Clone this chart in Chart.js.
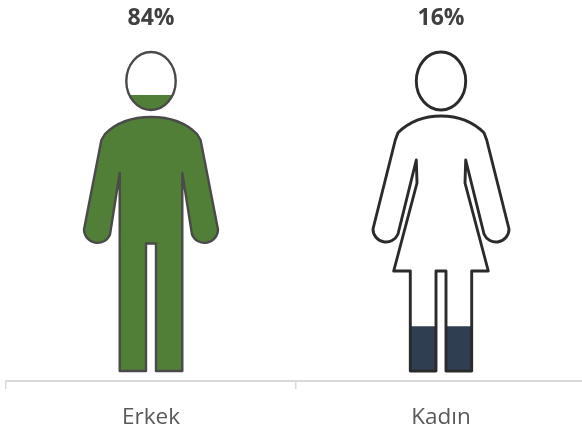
<!DOCTYPE html>
<html>
<head>
<meta charset="utf-8">
<script src="https://cdn.jsdelivr.net/npm/chart.js@4"></script>
<style>
  html, body { margin: 0; padding: 0; background: #ffffff; overflow: hidden; }
  #wrap { width: 582px; height: 432px; overflow: hidden; }
</style>
</head>
<body>
<div id="wrap"><canvas id="chart" width="592" height="432"></canvas></div>
<script>
var categories = ['Erkek', 'Kadın'];
var percents = [84, 16];
var barColors = ['#527f37', '#2f3e50'];
var outlineColors = ['#4a4a4a', '#2b2b2b'];
var outlineWidths = [2.4, 2.9];

// silhouettes, x relative to the category centre, y in canvas pixels
var headShapes = [
  'M-24.7 81 A24.7 29 0 1 0 24.7 81 A24.7 29 0 1 0 -24.7 81 Z',
  'M-24.7 81 A24.7 29 0 1 0 24.7 81 A24.7 29 0 1 0 -24.7 81 Z'
];
var bodyShapes = [
  'M0 117 C-18 117 -34 122 -46 134 L-49.6 140 L-67 229.5 A13.5 13.5 0 0 0 -41 234.5 L-31.3 173 L-31.3 371 L-5 371 L-5 243.5 L5 243.5 L5 371 L31.3 371 L31.3 173 L41 234.5 A13.5 13.5 0 0 0 67 229.5 L49.6 140 L46 134 C34 122 18 117 0 117 Z',
  'M0 116 C-16 116 -31 121 -43 132.7 L-45.7 140 L-68 229 A13 13 0 0 0 -43 234 L-24.7 160 L-24 183 L-47.3 271 L-30.7 271 L-30.7 371 L-5 371 L-5 271 L5 271 L5 371 L30.7 371 L30.7 271 L47.3 271 L24 183 L24.7 160 L43 234 A13 13 0 0 0 68 229 L45.7 140 L43 132.7 C31 121 16 116 0 116 Z'
];

function figurePath(chart, i) {
  var cx = chart.getDatasetMeta(0).data[i].x;
  var path = new Path2D();
  var m = new DOMMatrix().translate(cx, 0);
  path.addPath(new Path2D(headShapes[i]), m);
  path.addPath(new Path2D(bodyShapes[i]), m);
  return path;
}

// the bars only show through the figures, then the outlines go on top
var figures = {
  id: 'figures',
  beforeDatasetsDraw: function (chart) {
    var ctx = chart.ctx;
    var all = new Path2D();
    for (var i = 0; i < categories.length; i++) {
      all.addPath(figurePath(chart, i));
    }
    ctx.save();
    ctx.clip(all);
  },
  afterDatasetsDraw: function (chart) {
    var ctx = chart.ctx;
    ctx.restore();
    ctx.save();
    ctx.lineJoin = 'round';
    for (var i = 0; i < categories.length; i++) {
      ctx.lineWidth = outlineWidths[i];
      ctx.strokeStyle = outlineColors[i];
      ctx.stroke(figurePath(chart, i));
    }
    // values above the figures
    ctx.fillStyle = '#404040';
    ctx.font = 'bold 23px "Open Sans"';
    ctx.textAlign = 'center';
    ctx.textBaseline = 'middle';
    for (var j = 0; j < percents.length; j++) {
      ctx.fillText(percents[j] + '%', chart.getDatasetMeta(0).data[j].x, 18);
    }
    ctx.restore();
  }
};

new Chart(document.getElementById('chart'), {
  type: 'bar',
  data: {
    labels: categories,
    datasets: [{
      data: percents,
      backgroundColor: barColors,
      borderWidth: 0,
      barPercentage: 1,
      categoryPercentage: 1
    }]
  },
  options: {
    responsive: false,
    animation: false,
    layout: { padding: { left: 6, right: 6, top: 41, bottom: 0 } },
    plugins: { legend: { display: false }, tooltip: { enabled: false } },
    scales: {
      y: { display: false, min: 0, max: 100 },
      x: {
        offset: true,
        afterFit: function (scale) { scale.height = 51; },
        grid: { offset: true, drawOnChartArea: false, color: '#d9d9d9', lineWidth: 1.5, tickLength: 8 },
        border: { color: '#d9d9d9', width: 2 },
        ticks: { color: '#595959', padding: 15, maxRotation: 0, font: { family: '"Open Sans"', size: 22.5 } }
      }
    }
  },
  plugins: [figures]
});
</script>
</body>
</html>
